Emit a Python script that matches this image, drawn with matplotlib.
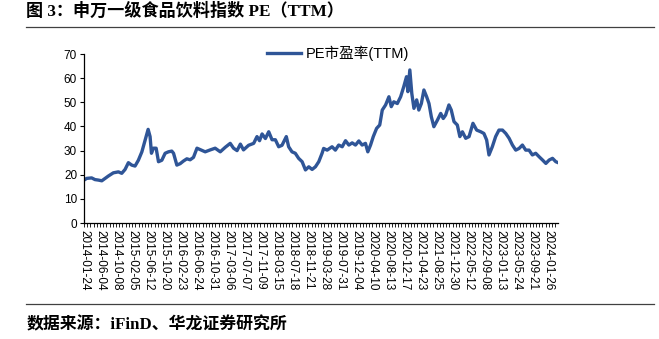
import matplotlib
matplotlib.use("Agg")
import matplotlib.pyplot as plt
from matplotlib.ticker import MultipleLocator, FixedLocator

# trading-day index (from 2014-01-24) and PE (TTM)
pe_day = [
    0, 14, 39, 56, 73, 91, 108, 125, 150, 176, 193, 210, 227, 244, 261, 278,
    296, 308, 318, 328, 338, 345, 355, 369, 381, 398, 415, 432, 449, 458, 475,
    492, 509, 526, 543, 560, 578, 595,
    620, 646, 671, 697, 723, 748, 765, 783, 800, 816, 842, 868, 885, 898, 911,
    928, 945, 962, 979, 996, 1013, 1035, 1047, 1064, 1081, 1098, 1116, 1133,
    1150, 1167, 1184, 1201, 1218,
    1226, 1244, 1269, 1286, 1303, 1321, 1338, 1355, 1372, 1389, 1406, 1423,
    1440, 1452, 1466, 1480, 1497, 1513, 1526, 1543, 1560, 1572, 1585, 1603,
    1620, 1636, 1650, 1657, 1667, 1677, 1688, 1702, 1713, 1726, 1739, 1753,
    1765, 1777, 1790, 1808, 1825,
    1838, 1850, 1867, 1879, 1893, 1910, 1923, 1936, 1953, 1970, 1990, 2009,
    2030, 2046, 2060, 2072, 2089, 2106, 2123, 2141, 2158, 2175, 2192, 2209,
    2226, 2243, 2260, 2277, 2294, 2311, 2328, 2346, 2363, 2380, 2397, 2414,
    2426,
]
pe_ttm = [
    17.8, 18.5, 18.7, 18.0, 17.8, 17.5, 18.5, 19.5, 20.8, 21.2, 20.6, 22.2,
    25.0, 24.0, 23.6, 26.0, 29.5, 33.0, 35.8, 38.8, 35.8, 28.9, 31.0, 31.0,
    25.4, 26.0, 28.9, 29.5, 29.8, 28.9, 24.0, 24.6, 25.7, 26.6, 26.2, 27.2,
    31.0, 30.4,
    29.5, 30.3, 31.0, 29.5, 31.4, 33.0, 31.0, 30.0, 32.7, 30.3, 32.2, 33.0,
    35.8, 34.1, 36.9, 35.0, 37.8, 34.5, 34.5, 31.6, 32.2, 35.8, 31.6, 29.5,
    28.9, 26.8, 25.4, 22.0, 23.3, 22.2, 23.3, 25.4, 28.9,
    30.9, 30.2, 31.6, 30.2, 32.3, 31.6, 34.1, 32.3, 33.2, 32.3, 34.0, 32.3,
    33.0, 29.5, 32.3, 35.8, 39.2, 40.6, 46.8, 48.9, 52.3, 48.2, 50.2, 49.5,
    52.3, 56.5, 60.6, 54.4, 63.4, 53.7, 47.5, 51.0, 46.8, 49.5, 55.1, 52.3,
    49.5, 44.0, 39.9, 42.6, 45.4,
    43.3, 44.7, 48.9, 46.8, 42.0, 40.6, 35.8, 37.8, 35.1, 35.8, 41.3, 38.5,
    37.8, 37.1, 34.4, 28.2, 31.6, 35.8, 38.5, 38.5, 37.1, 35.1, 32.3, 30.2,
    30.9, 32.3, 30.2, 30.2, 28.2, 28.9, 27.5, 26.1, 24.7, 26.1, 26.8, 25.4,
    25.0,
]

date_labels = [
    "2014-01-24", "2014-06-04", "2014-10-08", "2015-02-05", "2015-06-12",
    "2015-10-20", "2016-02-23", "2016-06-24", "2016-10-31", "2017-03-06",
    "2017-07-07", "2017-11-09", "2018-03-15", "2018-07-18", "2018-11-21",
    "2019-03-28", "2019-07-31", "2019-12-04", "2020-04-10", "2020-08-13",
    "2020-12-17", "2021-04-23", "2021-08-25", "2021-12-30", "2022-05-12",
    "2022-09-08", "2023-01-13", "2023-05-24", "2023-09-21", "2024-01-26",
]
label_step = 82  # trading days between labels

plt.rcParams['font.family'] = ['Liberation Sans', 'Noto Sans CJK SC']

fig = plt.figure(figsize=(6.59, 3.39), dpi=100)
ax = fig.add_axes([0.1275, 0.342, 0.7195, 0.4987])

ax.plot(pe_day, pe_ttm, color='#2F5597', linewidth=2.4, label='PE市盈率(TTM)')

ax.set_ylim(0, 70)
ax.set_xlim(0, pe_day[-1])
ax.yaxis.set_major_locator(MultipleLocator(10))
ax.xaxis.set_major_locator(FixedLocator([i * label_step for i in range(len(date_labels))]))
ax.set_xticklabels(date_labels, rotation=-90, fontsize=8.5)
ax.xaxis.set_minor_locator(MultipleLocator(label_step / 5))
ax.tick_params(axis='y', labelsize=8.5, length=3, width=0.8, pad=2)
ax.tick_params(axis='x', which='both', length=3, width=0.6, pad=2)

for side in ['top', 'right']:
    ax.spines[side].set_visible(False)
for side in ['left', 'bottom']:
    ax.spines[side].set_linewidth(0.9)

ax.legend(loc='center', bbox_to_anchor=(0.536, 1.006), frameon=False,
          fontsize=10.5, handlelength=2.3, handletextpad=0.35)

# title, source and the two rules
fig.text(0.04, 0.968, "图 3：申万一级食品饮料指数 PE（TTM）", fontsize=12.3,
         fontweight='bold', va='center', ha='left',
         family=['Liberation Serif', 'Noto Sans CJK SC'])
fig.text(0.04, 0.041, "数据来源：iFinD、华龙证券研究所", fontsize=12.2,
         fontweight='bold', va='center', ha='left',
         family=['Liberation Serif', 'Noto Sans CJK SC'])
fig.add_artist(plt.Line2D([0.04, 0.992], [1 - 27 / 339] * 2, color='#404040', linewidth=0.9))
fig.add_artist(plt.Line2D([0.04, 0.992], [1 - 304 / 339] * 2, color='#404040', linewidth=0.9))

fig.savefig('out.png', dpi=100)
